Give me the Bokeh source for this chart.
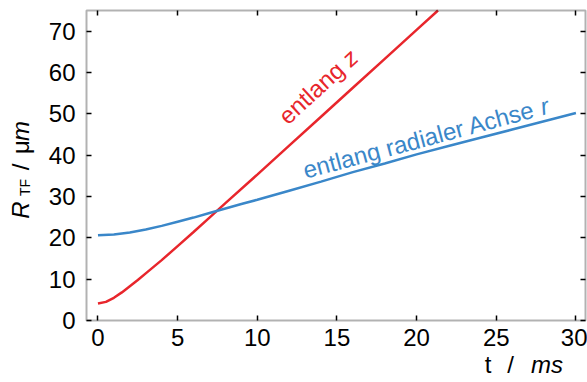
import math
from bokeh.plotting import figure
from bokeh.models import Range1d, LinearAxis, FixedTicker, Label, BoxAnnotation
from bokeh.embed import file_html
from bokeh.resources import INLINE

# --- data ---
t_z = [0, 0.5, 1, 1.5, 2, 2.5, 3, 4, 5, 6, 7, 8, 10, 12, 14, 16, 18, 20, 21.34]
r_z = [4.1, 4.5, 5.5, 6.8, 8.3, 9.8, 11.4, 14.6, 18.0, 21.4, 24.9, 28.4,
       35.3, 42.3, 49.3, 56.3, 63.3, 70.3, 75.0]

t_r = [0, 1, 2, 3, 4, 5, 6, 7, 8, 9, 10, 12, 14, 16, 18, 20, 22, 24, 26, 28, 30]
r_r = [20.6, 20.8, 21.3, 22.0, 22.9, 23.9, 24.9, 26.0, 27.1, 28.2, 29.2,
       31.4, 33.6, 35.9, 38.0, 40.2, 42.2, 44.2, 46.2, 48.2, 50.2]

x_ticks = [0, 5, 10, 15, 20, 25, 30]
y_ticks = [0, 10, 20, 30, 40, 50, 60, 70]

X_MIN, X_MAX = -0.72, 30.6      # plot box in data units
Y_MIN, Y_MAX = 0.0, 75.0

RED = "#e8262c"
BLUE = "#3a87c9"
FONT = "Liberation Sans"
TICK_FS = 24
LAB_FS = 24
TXT_FS = 24
BASE_FIX = 11   # px: the renderer draws alphabetic-baseline labels this far "down"

W, H = 587, 382
BOX_L, BOX_R, BOX_T, BOX_B = 86, 585, 10, 320   # plot box in pixels
sx = (BOX_R - BOX_L) / (X_MAX - X_MIN)
sy = (BOX_B - BOX_T) / (Y_MAX - Y_MIN)

# the frame covers the whole canvas; axes are pinned to the plot box
p = figure(width=W, height=H, output_backend="svg", toolbar_location=None,
           x_range=Range1d(X_MIN - BOX_L / sx, X_MAX + (W - BOX_R) / sx),
           y_range=Range1d(Y_MIN - (H - BOX_B) / sy, Y_MAX + BOX_T / sy),
           min_border=0, x_axis_location=None, y_axis_location=None)
p.outline_line_color = None
p.background_fill_color = "white"
p.border_fill_color = "white"
for g in p.grid:
    g.visible = False

ax_b = LinearAxis(fixed_location=Y_MIN, ticker=FixedTicker(ticks=x_ticks))
ax_t = LinearAxis(fixed_location=Y_MAX, ticker=FixedTicker(ticks=x_ticks))
ax_l = LinearAxis(fixed_location=X_MIN, ticker=FixedTicker(ticks=y_ticks))
ax_r = LinearAxis(fixed_location=X_MAX, ticker=FixedTicker(ticks=y_ticks))
p.add_layout(ax_b, "below")
p.add_layout(ax_t, "above")
p.add_layout(ax_l, "left")
p.add_layout(ax_r, "right")

for ax in (ax_b, ax_t, ax_l, ax_r):
    ax.axis_line_color = None
    ax.major_tick_in = 5
    ax.major_tick_out = 0
    ax.major_tick_line_color = "black"
    ax.major_tick_line_width = 1.5
    ax.minor_tick_line_color = None
    ax.major_label_text_font = FONT
    ax.major_label_text_font_size = f"{TICK_FS}px"
    ax.major_label_text_color = "black"
ax_b.major_label_standoff = 8
ax_l.major_label_standoff = 11
for ax, ticks in ((ax_r, y_ticks), (ax_t, x_ticks)):
    ax.major_label_text_font_size = "0px"
    ax.major_label_overrides = {v: "" for v in ticks}

p.add_layout(BoxAnnotation(left=X_MIN, right=X_MAX, bottom=Y_MIN, top=Y_MAX,
                           fill_color=None, line_color="black", line_width=2))

p.line(t_z, r_z, line_color=RED, line_width=2.5)
p.line(t_r, r_r, line_color=BLUE, line_width=2.5)


def label(text, x, y, fs, style="normal", angle=0.0, color="black",
          align="left", along=0.0, units="data"):
    # along: shift along the text direction (px); baseline fix perpendicular to it
    ox = along * math.cos(angle) - BASE_FIX * math.sin(angle)
    oy = along * math.sin(angle) + BASE_FIX * math.cos(angle)
    p.add_layout(Label(x=x, y=y, x_units=units, y_units=units, text=text,
                       angle=angle, text_font=FONT, text_font_size=f"{fs}px",
                       text_font_style=style, text_color=color,
                       text_baseline="alphabetic", text_align=align,
                       x_offset=ox, y_offset=oy))


def add_rotated(parts, x, y, deg, color, fs):
    a = math.radians(deg)
    off = 0.0
    for txt, style, em in parts:
        label(txt, x, y, fs, style, a, color, "left", off)
        off += em * fs


add_rotated([("entlang ", "normal", 3.558), ("z", "italic", 0.5)],
            12.03, 46.7, 42.5, RED, TXT_FS)
add_rotated([("entlang radialer Achse ", "normal", 10.227), ("r", "italic", 0.333)],
            13.08, 33.7, 15.0, BLUE, TXT_FS)

# screen units: x from the left edge, y from the bottom edge of the canvas
rot = math.pi / 2
# y title: R_TF / µm (reads bottom to top, baseline at x = 31)
label("R", 31, H - 209.5, LAB_FS, "italic", rot, align="center", units="screen")
label("TF", 35, H - 187, 14, "normal", rot, align="center", units="screen")
label("/", 31, H - 166.5, LAB_FS, "normal", rot, align="center", units="screen")
label("μ", 31, H - 146.5, LAB_FS, "normal", rot, align="center", units="screen")
label("m", 31, H - 130.5, LAB_FS, "italic", rot, align="center", units="screen")

# x title: t / ms (baseline at y = 375 from the top)
label("t", 487.5, H - 375, LAB_FS, align="center", units="screen")
label("/", 510, H - 375, LAB_FS, align="center", units="screen")
label("ms", 546.5, H - 375, LAB_FS, "italic", align="center", units="screen")

open("out.html", "w").write(file_html(p, INLINE))
